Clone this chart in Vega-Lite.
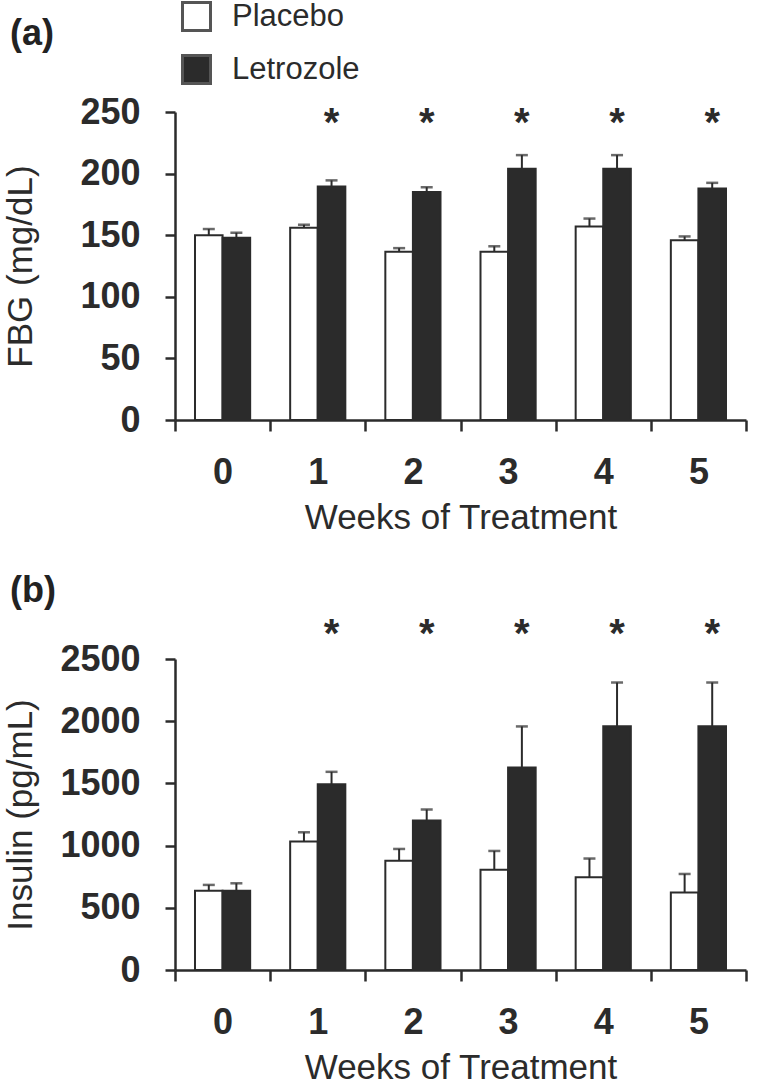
{
  "$schema": "https://vega.github.io/schema/vega-lite/v6.json",
  "background": "white",
  "padding": {"left": 3, "top": 1, "right": 0, "bottom": 0},
  "spacing": 37,
  "config": {
    "font": "Liberation Sans",
    "view": {"stroke": null},
    "axis": {
      "grid": false,
      "domainColor": "#2b2b2b", "domainWidth": 2.5,
      "tickColor": "#2b2b2b", "tickWidth": 2.5,
      "labelFont": "Liberation Sans", "labelFontWeight": "bold", "labelFontSize": 36, "labelColor": "#2b2b2b",
      "titleFont": "Liberation Sans", "titleFontWeight": "normal", "titleFontSize": 35, "titleColor": "#2b2b2b"
    },
    "axisX": {"labelAngle": 0, "tickBand": "extent", "tickSize": 11, "labelPadding": 24, "titlePadding": 10},
    "axisY": {"tickSize": 10, "labelPadding": 25, "titleX": -137},
    "title": {"font": "Liberation Sans", "fontSize": 36, "fontWeight": "bold", "color": "#222222", "anchor": "start", "frame": "group"}
  },
  "resolve": {"scale": {"fill": "independent"}, "legend": {"fill": "independent"}},
  "datasets": {
    "fbg": [
      {"week": "0", "group": "Placebo", "mean": 150, "upper": 155, "sig": ""},
      {"week": "0", "group": "Letrozole", "mean": 148, "upper": 152, "sig": ""},
      {"week": "1", "group": "Placebo", "mean": 156, "upper": 158.5, "sig": ""},
      {"week": "1", "group": "Letrozole", "mean": 189.5, "upper": 194.5, "sig": "*"},
      {"week": "2", "group": "Placebo", "mean": 136.5, "upper": 139.5, "sig": ""},
      {"week": "2", "group": "Letrozole", "mean": 185, "upper": 189, "sig": "*"},
      {"week": "3", "group": "Placebo", "mean": 136.5, "upper": 141, "sig": ""},
      {"week": "3", "group": "Letrozole", "mean": 204, "upper": 215, "sig": "*"},
      {"week": "4", "group": "Placebo", "mean": 157, "upper": 163.5, "sig": ""},
      {"week": "4", "group": "Letrozole", "mean": 204, "upper": 215, "sig": "*"},
      {"week": "5", "group": "Placebo", "mean": 146, "upper": 149, "sig": ""},
      {"week": "5", "group": "Letrozole", "mean": 188, "upper": 192.5, "sig": "*"}
    ],
    "insulin": [
      {"week": "0", "group": "Placebo", "mean": 638, "upper": 684, "sig": ""},
      {"week": "0", "group": "Letrozole", "mean": 638, "upper": 697, "sig": ""},
      {"week": "1", "group": "Placebo", "mean": 1032, "upper": 1107, "sig": ""},
      {"week": "1", "group": "Letrozole", "mean": 1494, "upper": 1593, "sig": "*"},
      {"week": "2", "group": "Placebo", "mean": 879, "upper": 973, "sig": ""},
      {"week": "2", "group": "Letrozole", "mean": 1201, "upper": 1290, "sig": "*"},
      {"week": "3", "group": "Placebo", "mean": 805, "upper": 957, "sig": ""},
      {"week": "3", "group": "Letrozole", "mean": 1628, "upper": 1958, "sig": "*"},
      {"week": "4", "group": "Placebo", "mean": 746, "upper": 896, "sig": ""},
      {"week": "4", "group": "Letrozole", "mean": 1960, "upper": 2311, "sig": "*"},
      {"week": "5", "group": "Placebo", "mean": 622, "upper": 772, "sig": ""},
      {"week": "5", "group": "Letrozole", "mean": 1960, "upper": 2311, "sig": "*"}
    ]
  },
  "vconcat": [
    {
      "width": 571, "height": 308,
      "title": {"text": "(a)", "dx": -165, "dy": 56},
      "data": {"name": "fbg"},
      "encoding": {
        "x": {"field": "week", "type": "ordinal", "scale": {"paddingInner": 0, "paddingOuter": 0}, "axis": {"title": "Weeks of Treatment"}},
        "xOffset": {"field": "group", "type": "nominal", "scale": {"domain": ["Placebo", "Letrozole"], "paddingInner": 0, "paddingOuter": 0.725}}
      },
      "layer": [
        {
          "mark": {"type": "bar", "stroke": "#2b2b2b", "strokeWidth": 2},
          "encoding": {
            "y": {"field": "mean", "type": "quantitative", "scale": {"domain": [0, 250], "nice": false}, "axis": {"values": [0, 50, 100, 150, 200, 250], "title": "FBG (mg/dL)"}},
            "fill": {"field": "group", "type": "nominal", "scale": {"domain": ["Placebo", "Letrozole"], "range": ["#ffffff", "#2b2b2b"]},
              "legend": {"orient": "none", "legendX": 6, "legendY": -111, "title": null, "symbolType": "square", "symbolSize": 784, "symbolStrokeColor": "#555555", "symbolStrokeWidth": 3, "symbolOpacity": 1, "labelFont": "Liberation Sans", "labelFontSize": 31, "labelColor": "#2b2b2b", "labelOffset": 20, "rowPadding": 12}}
          }
        },
        {
          "mark": {"type": "rule", "color": "#2b2b2b", "strokeWidth": 2},
          "encoding": {"y": {"field": "mean", "type": "quantitative"}, "y2": {"field": "upper"}}
        },
        {
          "mark": {"type": "tick", "color": "#2b2b2b", "thickness": 2.5, "size": 12, "orient": "horizontal"},
          "encoding": {"y": {"field": "upper", "type": "quantitative"}}
        },
        {
          "mark": {"type": "text", "font": "Liberation Sans", "fontSize": 40, "fontWeight": "bold", "color": "#2b2b2b", "baseline": "middle"},
          "encoding": {"text": {"field": "sig"}, "y": {"datum": 240}}
        }
      ]
    },
    {
      "width": 571, "height": 311,
      "title": {"text": "(b)", "dx": -165, "dy": 5, "offset": 10},
      "data": {"name": "insulin"},
      "encoding": {
        "x": {"field": "week", "type": "ordinal", "scale": {"paddingInner": 0, "paddingOuter": 0}, "axis": {"title": "Weeks of Treatment"}},
        "xOffset": {"field": "group", "type": "nominal", "scale": {"domain": ["Placebo", "Letrozole"], "paddingInner": 0, "paddingOuter": 0.725}}
      },
      "layer": [
        {
          "mark": {"type": "bar", "stroke": "#2b2b2b", "strokeWidth": 2},
          "encoding": {
            "y": {"field": "mean", "type": "quantitative", "scale": {"domain": [0, 2500], "nice": false}, "axis": {"values": [0, 500, 1000, 1500, 2000, 2500], "title": "Insulin (pg/mL)", "format": "d"}},
            "fill": {"field": "group", "type": "nominal", "scale": {"domain": ["Placebo", "Letrozole"], "range": ["#ffffff", "#2b2b2b"]}, "legend": null}
          }
        },
        {
          "mark": {"type": "rule", "color": "#2b2b2b", "strokeWidth": 2},
          "encoding": {"y": {"field": "mean", "type": "quantitative"}, "y2": {"field": "upper"}}
        },
        {
          "mark": {"type": "tick", "color": "#2b2b2b", "thickness": 2.5, "size": 12, "orient": "horizontal"},
          "encoding": {"y": {"field": "upper", "type": "quantitative"}}
        },
        {
          "mark": {"type": "text", "font": "Liberation Sans", "fontSize": 40, "fontWeight": "bold", "color": "#2b2b2b", "baseline": "middle"},
          "encoding": {"text": {"field": "sig"}, "y": {"datum": 2693}}
        }
      ]
    }
  ]
}
